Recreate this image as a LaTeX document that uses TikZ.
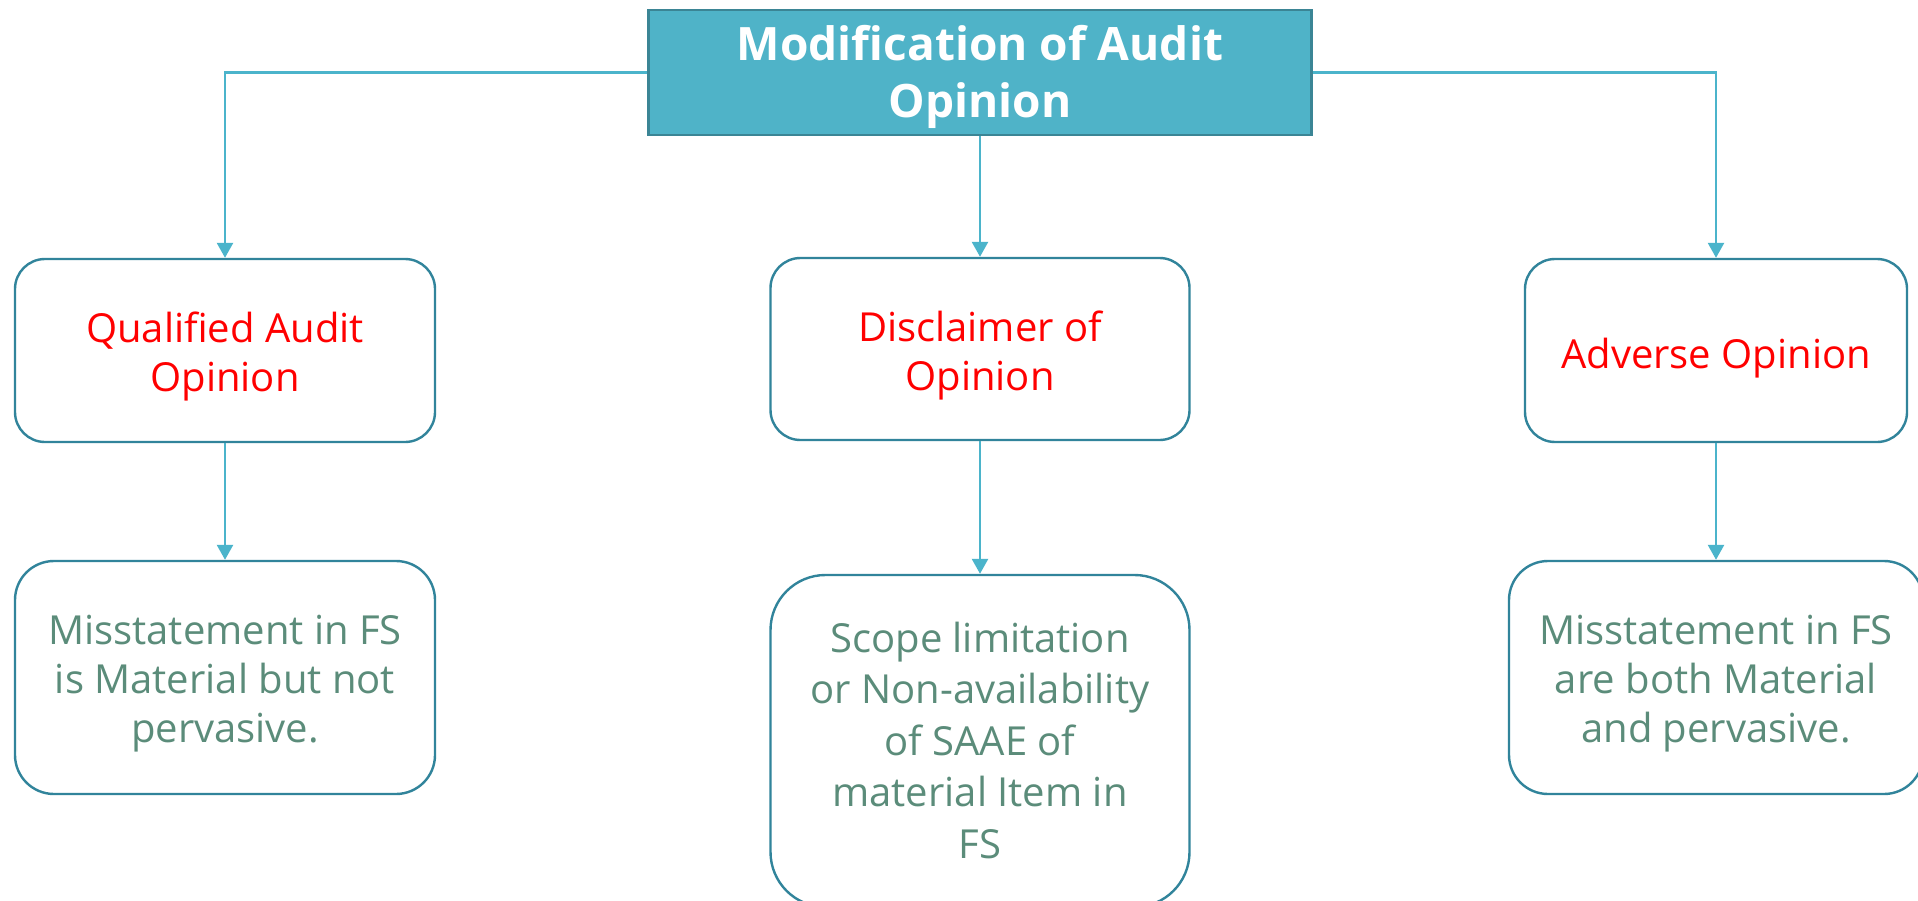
\documentclass[tikz,border=0pt]{standalone}
\usepackage{fontspec}
\setmainfont{Open Sans}
\usetikzlibrary{arrows.meta}
\definecolor{topfill}{HTML}{4FB3C8}
\definecolor{topline}{HTML}{3B8595}
\definecolor{boxline}{HTML}{31849B}
\definecolor{connc}{HTML}{4BB4CB}
\definecolor{redtxt}{HTML}{FF0000}
\definecolor{greentxt}{HTML}{5B8C7A}
\newcommand{\mlines}[2]{\raisebox{0pt}[\dimexpr\height+#1\relax][\depth]{\begin{tabular}{@{}c@{}}#2\end{tabular}}}
\renewcommand{\arraystretch}{1}
\tikzset{
  titlebox/.style={draw=topline, line width=2.4pt, fill=topfill, text=white,
    font=\fontsize{46}{57}\selectfont\bfseries, align=center, inner sep=0pt},
  optbox/.style={draw=boxline, line width=2.4pt, rounded corners=30pt, text=redtxt,
    font=\fontsize{40}{49}\selectfont, align=center, inner sep=0pt},
  descbox/.style={draw=boxline, line width=2.4pt, text=greentxt,
    font=\fontsize{40}{49}\selectfont, align=center, inner sep=0pt},
  conn/.style={draw=connc, line width=2.6pt, -{Triangle[width=16pt,length=15pt]}}
}
\begin{document}
\begin{tikzpicture}[x=1pt,y=-1pt]
\useasboundingbox (0,0) rectangle (1918,901);
\clip (0,0) rectangle (1918,901);
\fill[white] (0,0) rectangle (1918,901);
\node[titlebox, minimum width=663pt, minimum height=125pt] (top) at (980,72.5) {\mlines{10pt}{Modification of Audit\\Opinion}};
\node[optbox, minimum width=420pt, minimum height=183pt] (q) at (225,350.5) {\mlines{14pt}{Qualified Audit\\Opinion}};
\node[optbox, minimum width=419pt, minimum height=182pt] (d) at (980,349) {\mlines{14pt}{Disclaimer of\\Opinion}};
\node[optbox, minimum width=382pt, minimum height=183pt] (a) at (1716,350.5) {\mlines{16pt}{Adverse Opinion}};
\node[descbox, rounded corners=39pt, minimum width=420pt, minimum height=233pt] (q2) at (225,677.5) {\mlines{12pt}{Misstatement in FS\\is Material but not\\pervasive.}};
\node[descbox, rounded corners=55pt, minimum width=419pt, minimum height=332pt, font=\fontsize{40}{51.5}\selectfont] (d2) at (980,741) {\mlines{8pt}{Scope limitation\\or Non-availability\\of SAAE of\\material Item in\\FS}};
\node[descbox, rounded corners=39pt, minimum width=414pt, minimum height=233pt] (a2) at (1716,677.5) {\mlines{12pt}{Misstatement in FS\\are both Material\\and pervasive.}};
\draw[conn] (top.west) -| (q.north);
\draw[conn] (top.east) -| (a.north);
\draw[conn] (top.south) -- (d.north);
\draw[conn] (q.south) -- (q2.north);
\draw[conn] (d.south) -- (d2.north);
\draw[conn] (a.south) -- (a2.north);
\end{tikzpicture}
\end{document}
